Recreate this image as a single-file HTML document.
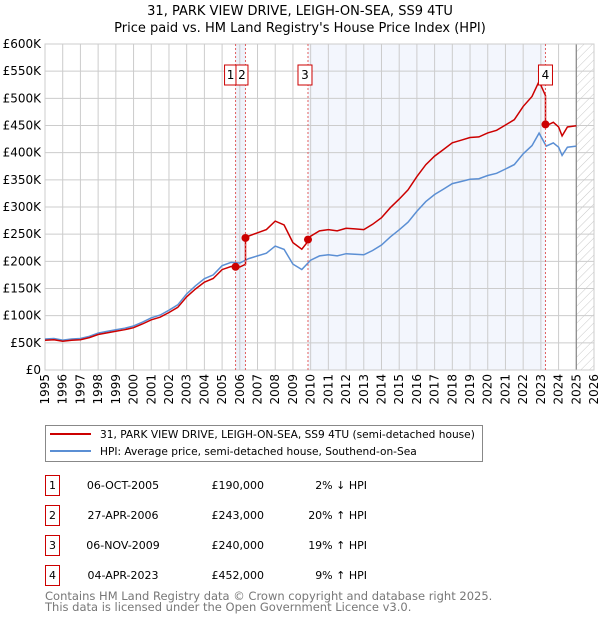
<!DOCTYPE html>
<html><head><meta charset="utf-8"><style>
body{margin:0;background:#fff;width:600px;height:620px;overflow:hidden;font-family:"DejaVu Sans","Liberation Sans",sans-serif}
</style></head><body>
<svg id="chart" width="600" height="620" xmlns="http://www.w3.org/2000/svg" font-family="DejaVu Sans, Liberation Sans, sans-serif">
<defs><pattern id="hatch" width="6" height="6" patternUnits="userSpaceOnUse" patternTransform="rotate(45)"><line x1="0" y1="0" x2="0" y2="6" stroke="#bbb" stroke-width="0.8"/></pattern></defs>
<text x="300" y="15" text-anchor="middle" font-size="13">31, PARK VIEW DRIVE, LEIGH-ON-SEA, SS9 4TU</text>
<text x="300" y="32" text-anchor="middle" font-size="13">Price paid vs. HM Land Registry's House Price Index (HPI)</text>
<g id="plot"></g>
<rect x="45.5" y="425.5" width="437" height="36" fill="#fff" stroke="#888"/>
<line x1="50" y1="434" x2="91" y2="434" stroke="#cc0000" stroke-width="2"/>
<text x="100" y="438" font-size="10.6">31, PARK VIEW DRIVE, LEIGH-ON-SEA, SS9 4TU (semi-detached house)</text>
<line x1="50" y1="451" x2="91" y2="451" stroke="#5b8fd4" stroke-width="2"/>
<text x="100" y="455" font-size="10.6">HPI: Average price, semi-detached house, Southend-on-Sea</text>
<g id="table" font-size="11"></g>
<text x="45" y="600" font-size="11.5" fill="#777">Contains HM Land Registry data © Crown copyright and database right 2025.</text>
<text x="45" y="611" font-size="11.5" fill="#777">This data is licensed under the Open Government Licence v3.0.</text>
</svg>
<script>
const hpiYears=[1995,1995.5,1996,1996.5,1997,1997.5,1998,1998.5,1999,1999.5,2000,2000.5,2001,2001.5,2002,2002.5,2003,2003.5,2004,2004.5,2005,2005.5,2006,2006.5,2007,2007.5,2008,2008.5,2009,2009.5,2010,2010.5,2011,2011.5,2012,2012.5,2013,2013.5,2014,2014.5,2015,2015.5,2016,2016.5,2017,2017.5,2018,2018.5,2019,2019.5,2020,2020.5,2021,2021.5,2022,2022.5,2022.9,2023.3,2023.7,2024,2024.2,2024.5,2025];
const hpiValues=[57,58,55,57,58,62,68,71,74,77,81,88,96,101,110,120,140,155,168,175,192,198,197,205,210,215,228,222,195,185,202,210,212,210,214,213,212,220,230,245,258,272,292,310,323,333,343,347,351,352,358,362,370,378,398,413,436,412,418,410,395,410,412];
const saleLabels=["1","2","3","4"];
const saleYears=[2005.76,2006.32,2009.85,2023.26];
const saleDates=["06-OCT-2005","27-APR-2006","06-NOV-2009","04-APR-2023"];
const salePrices=[190,243,240,452];
const salePriceText=["£190,000","£243,000","£240,000","£452,000"];
const salePct=["2% ↓ HPI","20% ↑ HPI","19% ↑ HPI","9% ↑ HPI"];
const yTicks=[0,50,100,150,200,250,300,350,400,450,500,550,600];
const yTickLabels=["£0","£50K","£100K","£150K","£200K","£250K","£300K","£350K","£400K","£450K","£500K","£550K","£600K"];
const xTicks=[1995,1996,1997,1998,1999,2000,2001,2002,2003,2004,2005,2006,2007,2008,2009,2010,2011,2012,2013,2014,2015,2016,2017,2018,2019,2020,2021,2022,2023,2024,2025,2026];
const dataEnd=2025.0;

const NS="http://www.w3.org/2000/svg";
const L=45,R=594,T=44,B=370;
const xs=v=>L+(v-1995)/(2026-1995)*(R-L);
const ys=v=>B-v/600*(B-T);
const plot=document.getElementById('plot');
function mk(tag,attrs,parent){const e=document.createElementNS(NS,tag);for(const k in attrs)e.setAttribute(k,attrs[k]);(parent||plot).appendChild(e);return e;}
function hpiAt(t){for(let i=0;i<hpiYears.length-1;i++){if(t>=hpiYears[i]&&t<=hpiYears[i+1]){const f=(t-hpiYears[i])/(hpiYears[i+1]-hpiYears[i]);return hpiValues[i]+f*(hpiValues[i+1]-hpiValues[i]);}}return hpiValues[hpiValues.length-1];}

let el=mk('rect',{x:L,y:T,width:R-L,height:B-T,fill:'#fff'});


el=mk('rect',{x:xs(saleYears[0]),y:T,width:xs(saleYears[1])-xs(saleYears[0]),height:B-T,fill:'#eef2fa'});


el=mk('rect',{x:xs(saleYears[2]),y:T,width:xs(saleYears[3])-xs(saleYears[2]),height:B-T,fill:'#f3f6fd'});


el=mk('rect',{x:xs(dataEnd),y:T,width:R-xs(dataEnd),height:B-T,fill:'url(#hatch)'});


yTicks.forEach((v,i)=>{
  mk('line',{x1:L,x2:R,y1:ys(v),y2:ys(v),stroke:'#ccc','stroke-width':1});
  const t=mk('text',{x:L-4,y:ys(v)+4,'text-anchor':'end','font-size':12});t.textContent=yTickLabels[i];
  
  
});
xTicks.forEach(v=>{
  mk('line',{x1:xs(v),x2:xs(v),y1:T,y2:B,stroke:'#ccc','stroke-width':1});
  const t=mk('text',{transform:`translate(${xs(v)+4},${B+4}) rotate(-90)`,'text-anchor':'end','font-size':12});t.textContent=v;
  
  
});
mk('line',{x1:xs(dataEnd),x2:xs(dataEnd),y1:T,y2:B,stroke:'#888','stroke-width':1.2});
mk('rect',{x:L,y:T,width:R-L,height:B-T,fill:'none',stroke:'#ccc'});
let d=hpiYears.map((t,i)=>(i?'L':'M')+xs(t).toFixed(1)+','+ys(hpiValues[i]).toFixed(1)).join('');
el=mk('path',{d,fill:'none',stroke:'#5b8fd4','stroke-width':1.5});


const ratios=saleYears.map((t,i)=>salePrices[i]/hpiAt(t));
let pts=[];
hpiYears.forEach((t,i)=>{
  let r=ratios[0];for(let k=0;k<saleYears.length;k++){if(t>=saleYears[k])r=ratios[k];}
  pts.push([t,hpiValues[i]*r]);
});
saleYears.forEach((t,k)=>{pts.push([t-0.001,hpiAt(t)*(k?ratios[k-1]:ratios[0])]);pts.push([t,salePrices[k]]);});
pts.sort((a,b)=>a[0]-b[0]);
d=pts.map((p,i)=>(i?'L':'M')+xs(p[0]).toFixed(1)+','+ys(p[1]).toFixed(1)).join('');
el=mk('path',{d,fill:'none',stroke:'#cc0000','stroke-width':1.5});


const boxOff=[-5,-3.5,-3,0];
saleYears.forEach((t,k)=>{
  mk('line',{x1:xs(t),x2:xs(t),y1:T,y2:B,stroke:'#e06060','stroke-width':1,'stroke-dasharray':'2,2'});
  const p=mk('circle',{cx:xs(t),cy:ys(salePrices[k]),r:4,fill:'#cc0000'});
  
  
  const bx=xs(t)+boxOff[k];
  const w=k<2?12:14;
  const b=mk('rect',{x:bx-w/2,y:65,width:w,height:20,fill:'#fff',stroke:'#cc0000'});
  
  
  const tx=mk('text',{x:bx,y:79,'text-anchor':'middle','font-size':12});tx.textContent=saleLabels[k];
});
const tbl=document.getElementById('table');
saleLabels.forEach((s,k)=>{
  const y=475+k*30;
  const b=mk('rect',{x:45.5,y:y+0.5,width:14,height:20,fill:'#fff',stroke:'#cc0000'},tbl);
  
  
  let t=mk('text',{x:52.5,y:y+14,'text-anchor':'middle'},tbl);t.textContent=s;
  t=mk('text',{x:123,y:y+14,'text-anchor':'middle'},tbl);t.textContent=saleDates[k];
  
  
  t=mk('text',{x:264,y:y+14,'text-anchor':'end'},tbl);t.textContent=salePriceText[k];
  
  
  t=mk('text',{x:367,y:y+14,'text-anchor':'end'},tbl);t.textContent=salePct[k];
  
  
});
</script>
</body></html>
